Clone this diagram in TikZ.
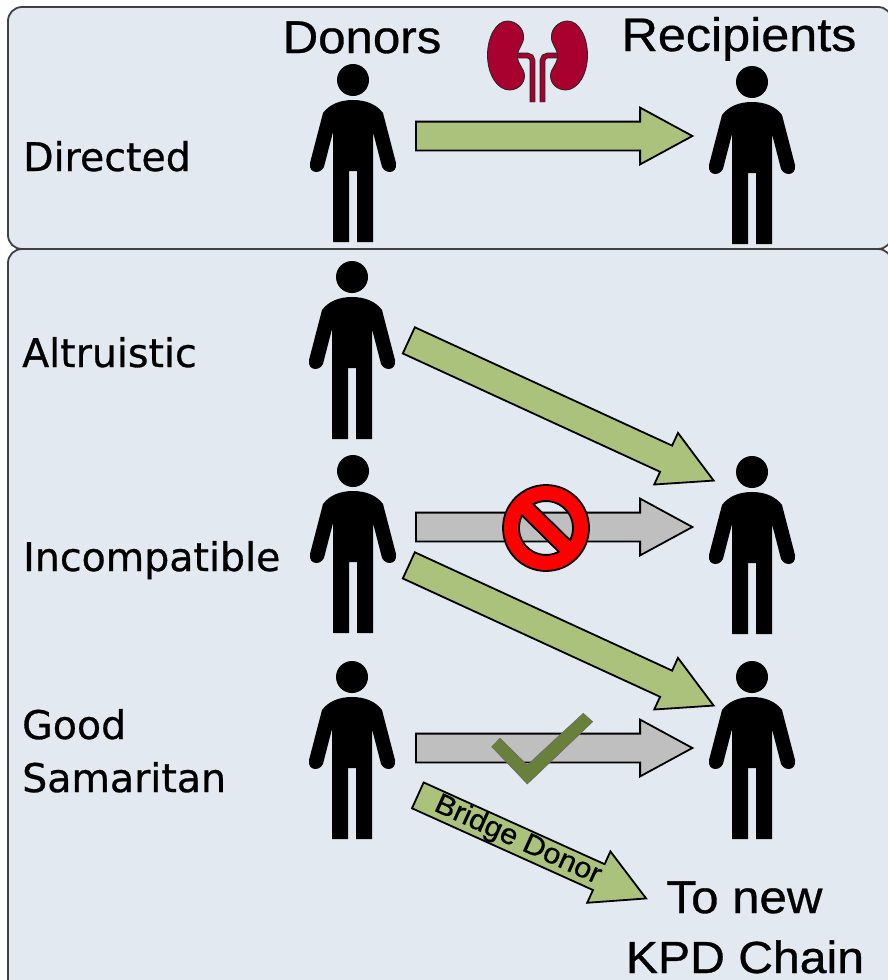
\documentclass[tikz,border=0pt]{standalone}
\usepackage{fontspec}
\usetikzlibrary{shapes.arrows}
\newfontfamily\headfont[FakeStretch=1.07,FakeBold=0.7]{Liberation Sans}
\newfontfamily\rowfont[FakeBold=0.7]{DejaVu Sans}
\definecolor{panelfill}{HTML}{E3E9F0}
\definecolor{panelline}{HTML}{404040}
\definecolor{arrowgreen}{HTML}{ABC27C}
\definecolor{arrowgrey}{HTML}{BFBFBF}
\definecolor{kidneyred}{HTML}{A8002F}
\definecolor{checkgreen}{HTML}{688039}
\tikzset{
person/.pic={
	\fill[black] (0,0) circle[radius=16];
	\fill[black] (0,20) .. controls (-14,20) and (-24,25) .. (-30,33) -- (-43,83)
		.. controls (-45,95) and (-29,95) .. (-28,83) -- (-20,52) -- (-20,162) -- (-4,162) -- (-4,91)
		-- (4,91) -- (4,162) -- (20,162) -- (20,52) -- (28,83)
		.. controls (29,95) and (45,95) .. (43,83) -- (30,33)
		.. controls (24,25) and (14,20) .. (0,20) -- cycle;
},
kidney/.pic={
	\draw[draw=black!85,line width=0.8pt,double=kidneyred,double distance=4pt,rounded corners=5pt] (-21,55.5) -- (-5,55.5) -- (-5,102);
	\draw[draw=black!85,line width=0.8pt,double=kidneyred,double distance=4pt,rounded corners=5pt] (21,55.5) -- (5,55.5) -- (5,102);
	\draw[draw=black!85,fill=kidneyred,line width=0.8pt] (-30,21) .. controls (-42,21) and (-50,38) .. (-50,55)
		.. controls (-50,75) and (-40,90) .. (-28,90) .. controls (-20,90) and (-13,84) .. (-13,76)
		.. controls (-13,68) and (-20,65) .. (-20,56) .. controls (-20,48) and (-13,44) .. (-14,36)
		.. controls (-14,28) and (-22,21) .. (-30,21) -- cycle;
	\draw[draw=black!85,fill=kidneyred,line width=0.8pt] (30,21) .. controls (42,21) and (50,38) .. (50,55)
		.. controls (50,75) and (40,90) .. (28,90) .. controls (20,90) and (13,84) .. (13,76)
		.. controls (13,68) and (20,65) .. (20,56) .. controls (20,48) and (13,44) .. (14,36)
		.. controls (14,28) and (22,21) .. (30,21) -- cycle;
},
nosign/.pic={
	\draw[draw=black,fill=red,line width=1.8pt,even odd rule] (0,0) circle[radius=43]
		(-118:27) arc[start angle=-118,end angle=27,radius=27] -- cycle
		(61.6:27) arc[start angle=61.6,end angle=207.6,radius=27] -- cycle;
}
}
\begin{document}
\begin{tikzpicture}[x=1pt,y=-1pt]

\tikzstyle{panel} = [draw=panelline, fill=panelfill, line width=1.8pt, rounded corners=14pt]
\tikzstyle{head} = [anchor=base, inner sep=0pt, font=\headfont\fontsize{46}{46}\selectfont]
\tikzstyle{row} = [anchor=base west, inner sep=0pt, font=\rowfont\fontsize{39.5}{39.5}\selectfont]
\tikzstyle{blockarrow} = [draw=black, line width=1.8pt, shape=single arrow, inner xsep=0pt, inner ysep=13.5pt, anchor=tail, minimum width=55pt, single arrow head extend=14pt, single arrow tip angle=57]
\tikzstyle{good} = [blockarrow, fill=arrowgreen]
\tikzstyle{bad} = [blockarrow, fill=arrowgrey]

\clip (0,0) rectangle (888,980);
\fill[white] (0,0) rectangle (888,980);

\draw[panel] (8,7) rectangle (892,249);
\draw[panel] (8,249) rectangle (892,1000);

\node[head] (donors) at (362,53) {Donors};
\node[head, font=\headfont\fontsize{47}{47}\selectfont] (recipients) at (739,51) {Recipients};
\node[head] (tonew) at (744.5,913) {To new};
\node[head, font=\headfont\fontsize{45}{45}\selectfont] (kpdchain) at (745,973) {KPD Chain};

\node[row] (directed) at (23,171) {Directed};
\node[row] (altruistic) at (22,367) {Altruistic};
\node[row] (incompatible) at (23,571) {Incompatible};
\node[row] (good) at (22,739) {Good};
\node[row] (samaritan) at (22,792) {Samaritan};

\pic (kidneys) at (537.5,0) {kidney};

\pic (donora) at (353,80) {person};
\pic (recipienta) at (752,82) {person};
\pic (donorb) at (352,277) {person};
\pic (donorc) at (353,471) {person};
\pic (recipientc) at (752,472) {person};
\pic (donord) at (352,677) {person};
\pic (recipientd) at (752,677) {person};

\node[good, minimum height=276.5pt] (directarrow) at (415,136) {};
\node[good, minimum height=335.5pt, rotate=-24.7] (altruarrow) at (408,340) {};
\node[bad, minimum height=276.5pt] (blockedarrow) at (415,527) {};
\node[good, minimum height=335.5pt, rotate=-24.7] (pairarrow) at (408,565) {};
\node[bad, minimum height=276.5pt] (okarrow) at (415,748) {};
\node[good, minimum height=250.5pt, rotate=-24.3, inner ysep=0pt, font=\headfont\fontsize{28.5}{28.5}\selectfont] (bridgearrow) at (417,795) {Bridge Donor\hspace*{5pt}};

\pic (nosign) at (546,528) {nosign};
\draw[fill=checkgreen, draw=black!60, line width=0.5pt] (500,738.3) -- (491.7,746.7) -- (527.3,784) -- (592.7,721.7) -- (583.3,713.3) -- (527.3,765) -- cycle;

\end{tikzpicture}
\end{document}
